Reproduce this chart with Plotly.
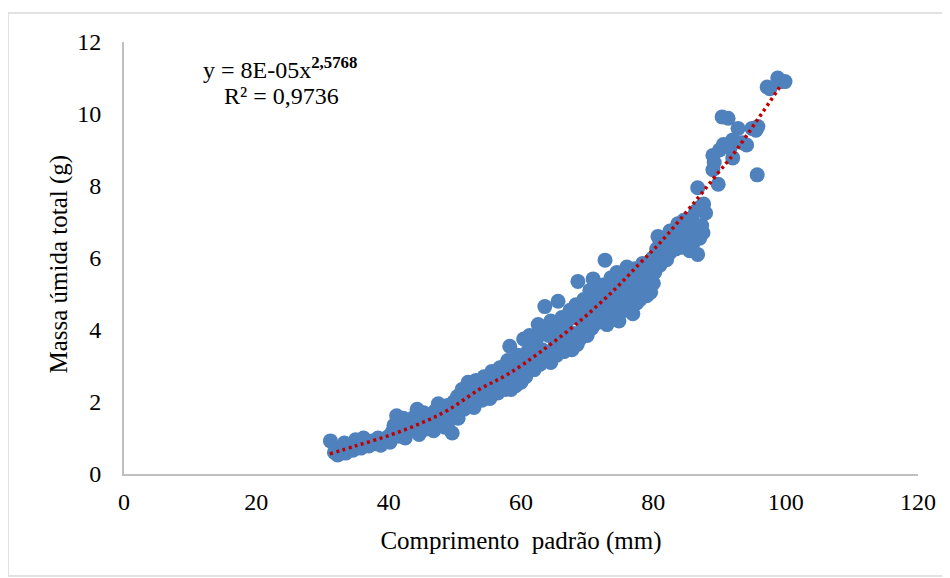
import plotly.graph_objects as go

# Scatter data (comprimento padrão mm, massa úmida total g)
comprimento = [
    31.2, 31.8, 32.3, 32.8, 33.3, 33.5, 34.0, 34.6, 35.0, 35.3, 35.8, 36.2, 36.6, 37.0, 37.5, 38.0, 38.4, 38.8, 39.3, 39.8, 40.2, 40.5,
    40.8, 41.2, 41.5, 41.8, 42.2, 42.5, 42.8, 43.2, 43.6, 44.0, 44.3, 44.6, 45.0, 45.3, 45.7, 46.0, 46.4, 46.8, 47.2, 47.5, 47.8, 48.2, 48.5, 48.9, 49.2, 49.6, 49.8,
    50.1, 50.4, 50.8, 51.1, 51.4, 51.7, 52.0, 52.3, 52.6, 52.9, 53.2, 53.5, 53.8, 54.1, 54.4, 54.7, 55.0, 55.3, 55.6, 55.9, 56.2, 56.5, 56.8, 57.1, 57.4, 57.7, 58.0, 58.3, 58.6, 58.9, 59.2, 59.5, 59.8,
    60.1, 60.4, 60.7, 61.0, 61.3, 61.6, 61.9, 62.2, 62.6, 62.9, 63.2, 63.6, 63.9, 64.2, 64.5, 64.8, 65.1, 65.4, 65.6, 65.9, 66.2, 66.5, 66.8, 67.1, 67.4, 67.7, 68.0, 68.3, 68.6, 68.9, 69.2, 69.5, 69.8,
    70.1, 70.4, 70.7, 70.9, 71.2, 71.5, 71.8, 72.1, 72.4, 72.7, 73.0, 73.3, 73.6, 73.9, 74.2, 74.5, 74.8, 75.1, 75.4, 75.7, 76.0, 76.3, 76.6, 76.9, 77.2, 77.5, 77.8, 78.1, 78.4, 78.7, 79.0, 79.3, 79.6, 79.9,
    80.2, 80.5, 80.7, 81.0, 81.3, 81.6, 81.9, 82.2, 82.5, 82.8, 83.1, 83.4, 83.7, 84.0, 84.3, 84.6, 84.9, 85.2, 85.5, 85.8, 86.1, 86.4, 86.7, 86.7, 87.0, 87.3, 87.6, 87.9,
    89.0, 89.0, 89.2, 89.8, 90.0, 90.4, 90.6, 91.3, 91.6, 92.0, 92.0, 92.8, 93.5, 94.1, 94.9, 95.5, 95.7, 95.8, 97.2, 97.6, 98.8, 99.3, 99.9,
    40.0, 41.0, 42.0, 43.0, 44.0, 45.0, 46.0, 47.0, 48.0, 49.0, 49.5,
    50.5, 51.0, 52.0, 53.0, 54.0, 55.0, 56.0, 57.0, 57.5, 58.5, 59.0, 60.0,
    60.5, 61.5, 62.0, 62.5, 63.0, 63.5, 64.0, 64.5, 65.0, 66.0, 66.5, 67.0, 67.5, 68.0, 68.5, 69.0, 69.5, 70.0,
    70.5, 71.0, 71.5, 72.0, 72.5, 73.0, 73.5, 74.0, 74.5, 75.0, 75.5, 76.0, 76.5, 77.0, 77.5, 78.0, 78.5, 79.0, 79.5, 80.0,
    80.5, 81.0, 81.5, 82.0, 82.5, 83.0, 83.5, 84.0, 84.5, 85.0, 85.5, 86.0, 86.5, 87.0, 87.5,
]
massa = [
    0.92, 0.60, 0.53, 0.70, 0.86, 0.58, 0.75, 0.66, 0.95, 0.80, 0.72, 1.00, 0.85, 0.78, 0.92, 0.84, 1.00, 0.80, 0.95, 1.02, 0.88, 1.15,
    1.35, 1.62, 1.05, 1.25, 1.55, 1.00, 1.40, 1.20, 1.55, 1.30, 1.80, 1.10, 1.50, 1.70, 1.25, 1.45, 1.65, 1.20, 1.55, 1.95, 1.40, 1.75, 1.30, 1.90, 1.60, 1.14, 2.00,
    1.70, 2.15, 1.90, 2.35, 1.80, 2.10, 2.55, 2.00, 2.30, 1.85, 2.60, 2.20, 2.45, 2.05, 2.70, 2.30, 2.55, 2.10, 2.85, 2.40, 2.65, 2.25, 2.95, 2.50, 2.75, 2.35, 3.15, 3.55, 2.60, 2.90, 2.45, 3.30, 2.70,
    3.05, 3.75, 2.70, 3.40, 3.85, 2.95, 3.20, 3.60, 4.15, 3.05, 3.45, 4.65, 3.25, 3.85, 3.10, 4.05, 3.55, 3.30, 4.80, 3.75, 4.35, 3.40, 4.10, 3.65, 4.55, 3.45, 3.90, 4.70, 5.35, 3.75, 4.25, 4.85, 3.95,
    4.50, 5.10, 4.05, 5.42, 4.70, 4.20, 5.00, 4.40, 5.25, 5.94, 4.15, 4.80, 5.45, 4.35, 4.95, 5.60, 4.25, 5.20, 5.55, 4.55, 5.75, 4.95, 5.35, 4.45, 5.70, 4.75, 5.55, 5.15, 5.85, 5.40, 4.95, 5.70, 5.05, 6.00,
    5.60, 6.25, 6.60, 5.80, 6.35, 6.05, 6.20, 6.50, 6.15, 6.40, 6.70, 6.25, 6.95, 6.60, 6.30, 7.05, 6.50, 6.80, 6.20, 7.10, 6.65, 7.30, 6.10, 7.95, 6.55, 6.90, 7.50, 7.25,
    8.45, 8.85, 8.65, 8.05, 9.00, 9.92, 9.15, 9.88, 9.05, 8.78, 9.28, 9.60, 9.20, 9.14, 9.60, 9.55, 8.31, 9.65, 10.75, 10.70, 11.00, 10.90, 10.90,
    1.00, 1.10, 1.20, 1.45, 1.55, 1.25, 1.30, 1.75, 1.55, 1.45, 1.75,
    1.55, 2.05, 2.25, 2.05, 2.35, 2.25, 2.55, 2.65, 3.00, 2.35, 3.10, 2.55,
    3.25, 3.55, 2.90, 3.80, 3.20, 4.00, 3.35, 4.25, 3.85, 3.55, 4.00, 4.30, 3.70, 4.35, 3.60, 4.55, 4.10, 3.85,
    4.75, 4.40, 5.20, 4.70, 4.25, 5.15, 4.55, 5.30, 4.65, 4.85, 5.05, 4.65, 5.55, 5.05, 5.40, 4.85, 5.55, 5.35, 5.80, 5.30,
    5.95, 6.45, 6.40, 5.95, 6.75, 6.40, 6.60, 6.90, 6.75, 6.45, 6.95, 6.40, 6.90, 7.40, 6.70,
]

# Power trendline
trend_x = [31.1, 35.0, 40.2, 45.0, 49.0, 53.8, 58.0, 63.0, 68.9, 74.0, 78.0, 81.0, 86.0, 89.9, 92.0, 95.7, 99.4]
trend_y = [0.56, 0.78, 1.08, 1.42, 1.78, 2.36, 2.77, 3.40, 4.25, 5.10, 5.86, 6.42, 7.50, 8.39, 8.86, 9.83, 10.83]

x_ticks = [0, 20, 40, 60, 80, 100, 120]
y_ticks = [0, 2, 4, 6, 8, 10, 12]

FONT = "Liberation Serif"

fig = go.Figure()
fig.add_trace(go.Scatter(
    x=comprimento, y=massa, mode="markers",
    marker=dict(size=15, color="#4F81BD", line=dict(width=0)),
    showlegend=False, cliponaxis=False,
))
fig.add_trace(go.Scatter(
    x=trend_x, y=trend_y, mode="lines",
    line=dict(color="#C00000", width=3.5, dash="3px,3.5px", shape="spline"),
    showlegend=False,
))

fig.update_layout(
    width=942, height=570,
    margin=dict(l=116, r=32, t=34, b=104),
    paper_bgcolor="white", plot_bgcolor="white",
    font=dict(family=FONT, size=24, color="black"),
    xaxis=dict(
        range=[0, 120], tickvals=x_ticks, showgrid=False, zeroline=False,
        showline=True, linecolor="#BFBFBF", linewidth=2,
        ticks="", ticklabelstandoff=5,
        tickfont=dict(family=FONT, size=24),
        title=dict(text="Comprimento  padrão (mm)", font=dict(family=FONT, size=25), standoff=18),
    ),
    yaxis=dict(
        range=[0, 12], tickvals=y_ticks, showgrid=False, zeroline=False,
        showline=True, linecolor="#BFBFBF", linewidth=2,
        ticks="", ticklabelstandoff=16,
        tickfont=dict(family=FONT, size=24),
    ),
    annotations=[
        dict(x=-0.0819, y=0.487, xref="paper", yref="paper", showarrow=False,
             textangle=-90, xanchor="center", yanchor="middle",
             text="Massa úmida total (g)", font=dict(family=FONT, size=25)),
        dict(x=23.6, y=11.27, xref="x", yref="y", showarrow=False,
             text="y = 8E-05x<sup><b>2,5768</b></sup>", font=dict(family=FONT, size=24)),
        dict(x=23.8, y=10.50, xref="x", yref="y", showarrow=False,
             text="R² = 0,9736", font=dict(family=FONT, size=24)),
    ],
    shapes=[
        dict(type="rect", xref="paper", yref="paper",
             x0=-0.1461, x1=1.0327, y0=-0.236, y1=1.0671,
             line=dict(color="#D9D9D9", width=1.5), fillcolor="rgba(0,0,0,0)", layer="below"),
    ],
)

fig.write_html("out.html")
